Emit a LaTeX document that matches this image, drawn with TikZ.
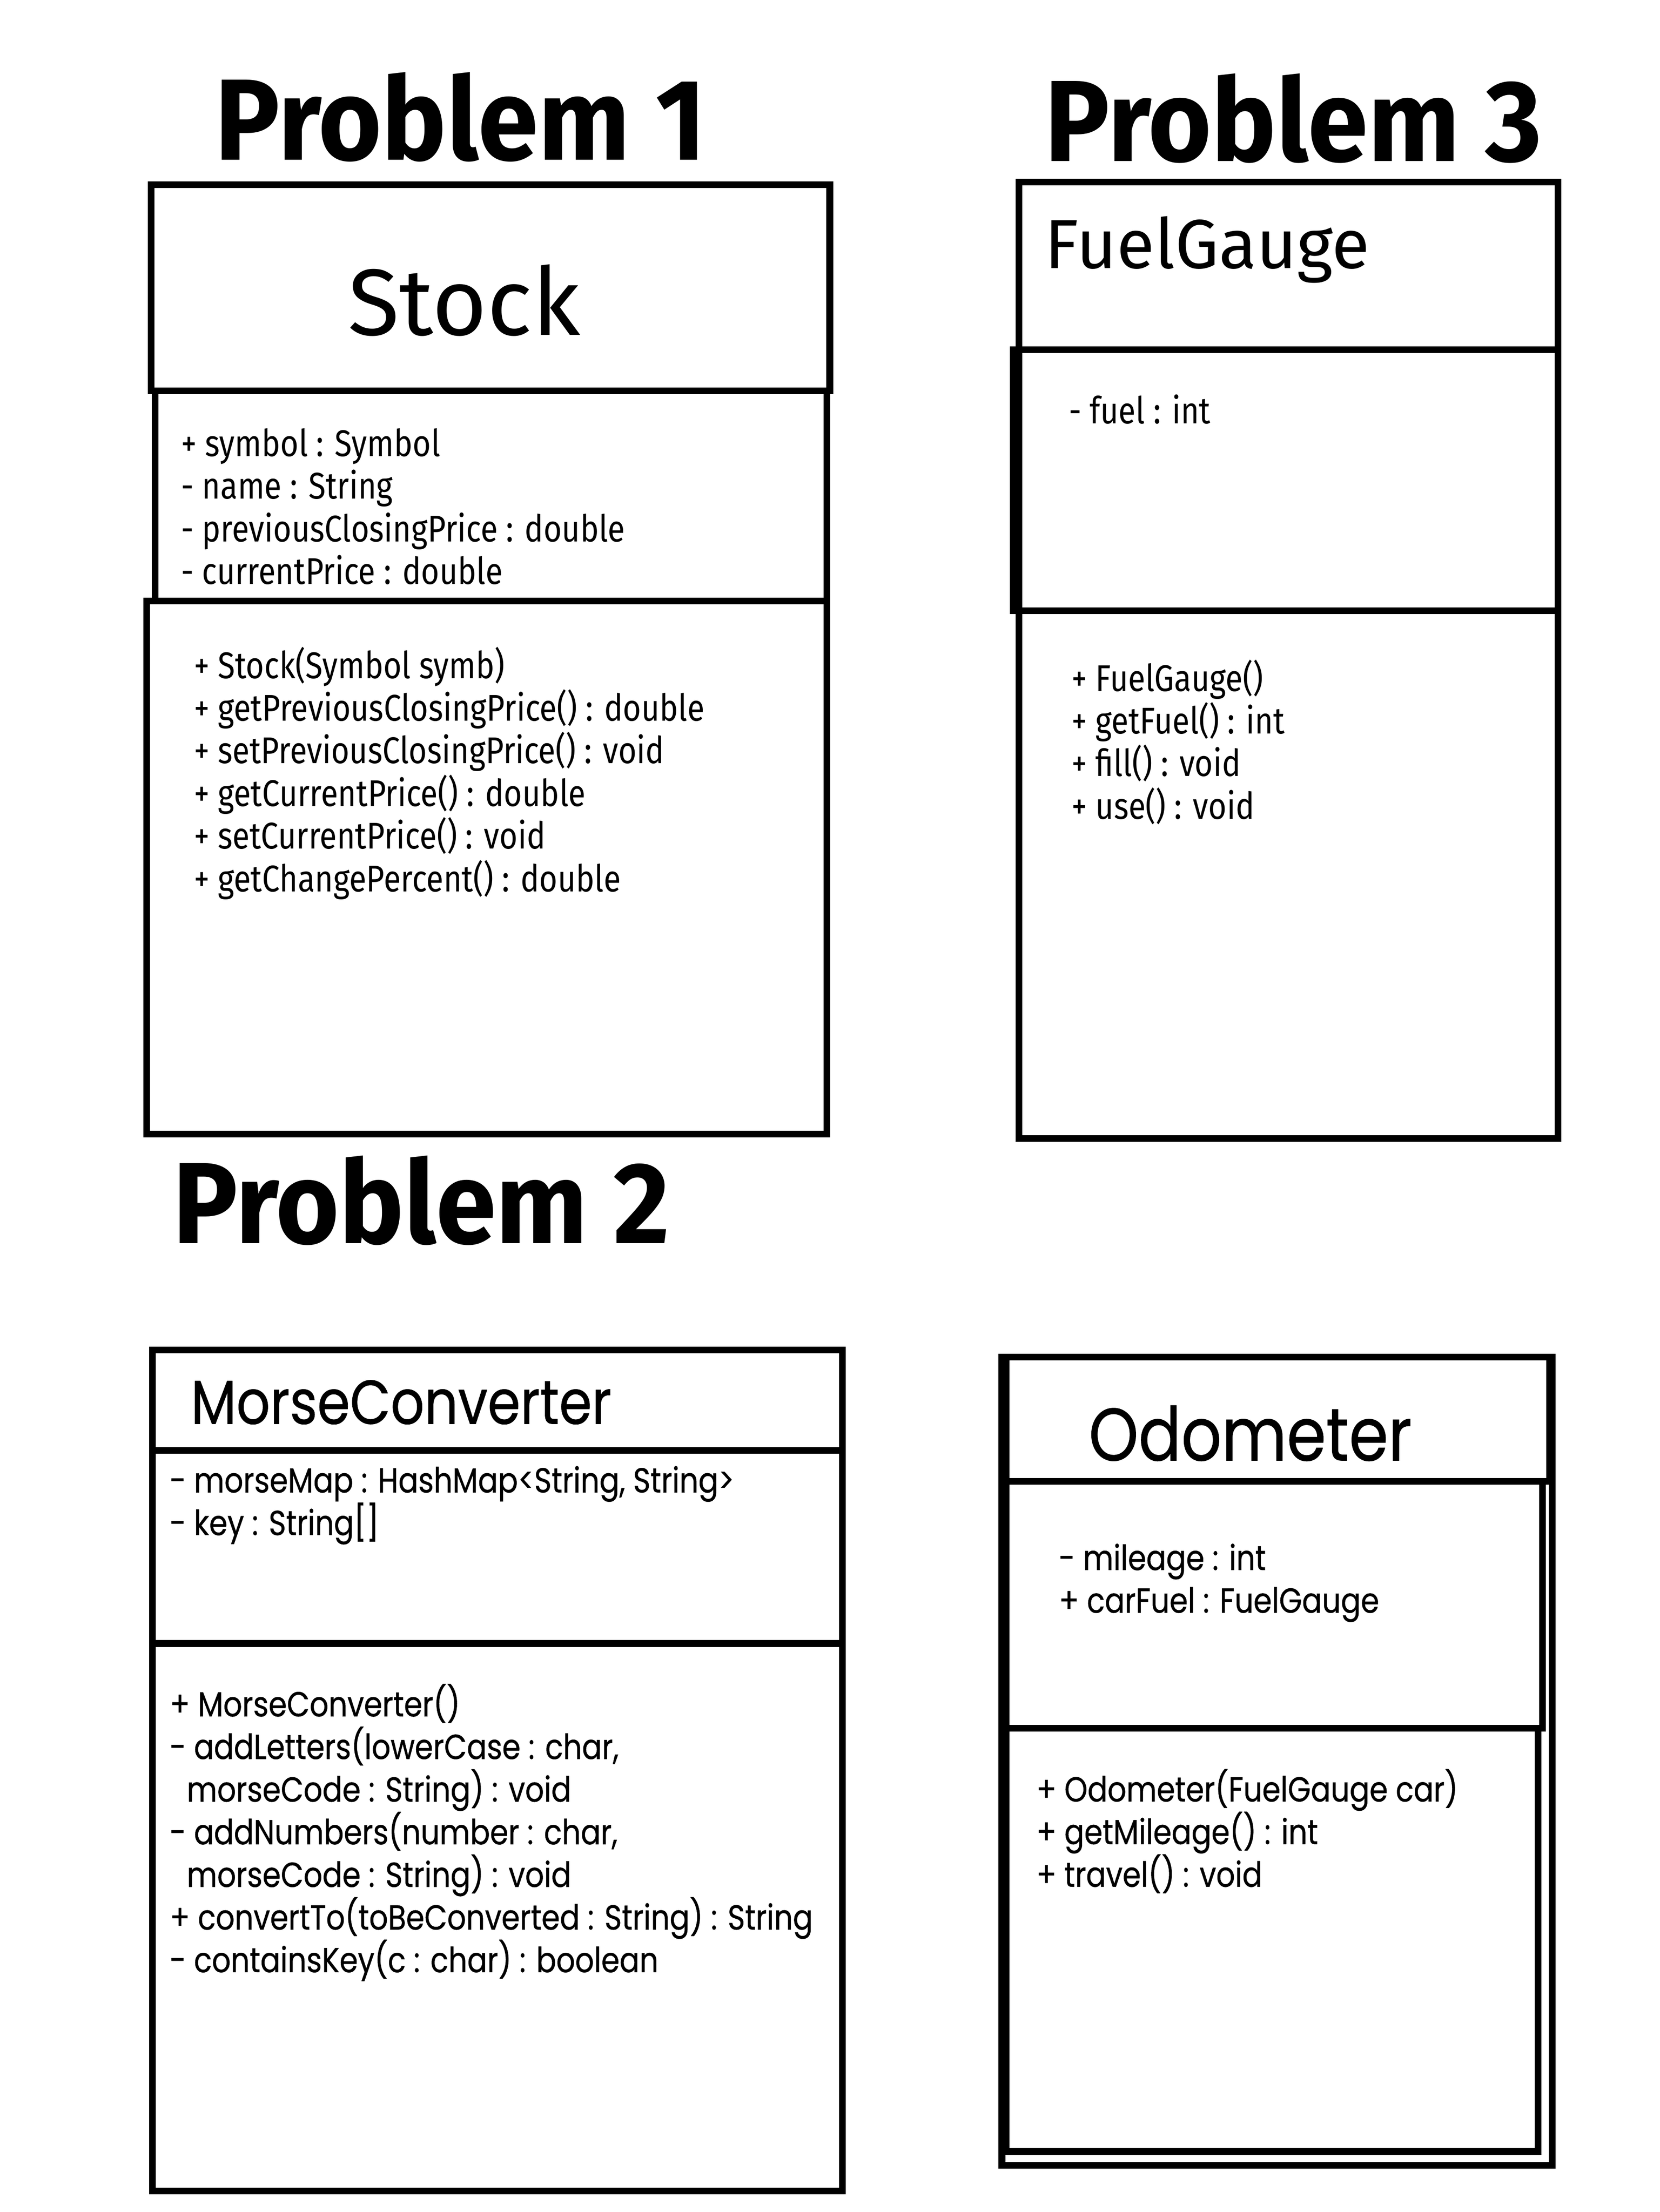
\documentclass[tikz,border=0pt]{standalone}
\usepackage{fontspec}
\setmainfont{Fira Sans}[FakeStretch=0.845]
\newfontfamily\namefont{Fira Sans}
\newfontfamily\titlefont{Fira Sans}[FakeStretch=0.94]
\newfontfamily\widefont{Poppins}[FakeStretch=0.85, FakeBold=0.6]

\begin{document}
\begin{tikzpicture}[x=0.1mm, y=-0.1mm, line width=1.35pt,
    title/.style = {font=\titlefont\fontsize{23.3}{26}\selectfont\bfseries, anchor=west, inner sep=0},
    cname/.style = {anchor=west, inner sep=0},
    members/.style = {font=\fontsize{7.5}{8.6}\selectfont, align=left, anchor=west, inner sep=0},
    wide/.style = {members, font=\widefont\fontsize{7}{8.6}\selectfont}]
    \useasboundingbox (0,0) rectangle (1176,1568);

    \node[title] (P1) at (150,83) {Problem 1};
    \node[title] (P3) at (738,84) {Problem 3};
    \node[title] (P2) at (120,851) {Problem 2};

    \draw (107,131) rectangle (588,277);
    \draw (110,277) rectangle (586,426);
    \draw (104,426) rectangle (586,804);
    \node[font=\namefont\fontsize{19}{21}\selectfont, inner sep=0] (S) at (329,213) {Stock};
    \node[members] (Sa) at (126,359) {+ symbol : Symbol\\- name : String\\- previousClosingPrice : double\\- currentPrice : double};
    \node[members] (So) at (135,548) {+ Stock(Symbol symb)\\+ getPreviousClosingPrice() : double\\+ setPreviousClosingPrice() : void\\+ getCurrentPrice() : double\\+ setCurrentPrice() : void\\+ getChangePercent() : double};

    \draw (722,129) rectangle (1104,807);
    \draw (718,248) rectangle (1104,433);
    \node[cname, font=\namefont\fontsize{14}{16}\selectfont] (F) at (738,177) {FuelGauge};
    \node[members] (Fa) at (755,290) {- fuel : int};
    \node[members] (Fo) at (757,526) {+ FuelGauge()\\+ getFuel() : int\\+ fill() : void\\+ use() : void};

    \draw (108,957) rectangle (597,1553);
    \draw (106,1028) -- (597,1028);
    \draw (108,1165) -- (595,1165);
    \node[cname, font=\widefont\fontsize{12.5}{14}\selectfont] (M) at (133,994) {MorseConverter};
    \node[wide] (Ma) at (118,1067) {- morseMap : HashMap<String, String>\\- key : String[]};
    \node[wide] (Mo) at (118,1299) {+ MorseConverter()\\- addLetters(lowerCase : char,\\\hspace{1.2mm}morseCode : String) : void\\- addNumbers(number : char,\\\hspace{1.2mm}morseCode : String) : void\\+ convertTo(toBeConverted : String) : String\\- containsKey(c : char) : boolean};

    \draw (710,962) rectangle (1100,1535);
    \draw (713,962) rectangle (1098,1050);
    \draw (713,1050) rectangle (1093,1225);
    \draw (713,1225) rectangle (1090,1525);
    \node[font=\widefont\fontsize{15}{17}\selectfont, inner sep=0] (O) at (886,1016) {Odometer};
    \node[wide] (Oa) at (748,1122) {- mileage : int\\+ carFuel : FuelGauge};
    \node[wide] (Oo) at (732,1298) {+ Odometer(FuelGauge car)\\+ getMileage() : int\\+ travel() : void};
\end{tikzpicture}
\end{document}
